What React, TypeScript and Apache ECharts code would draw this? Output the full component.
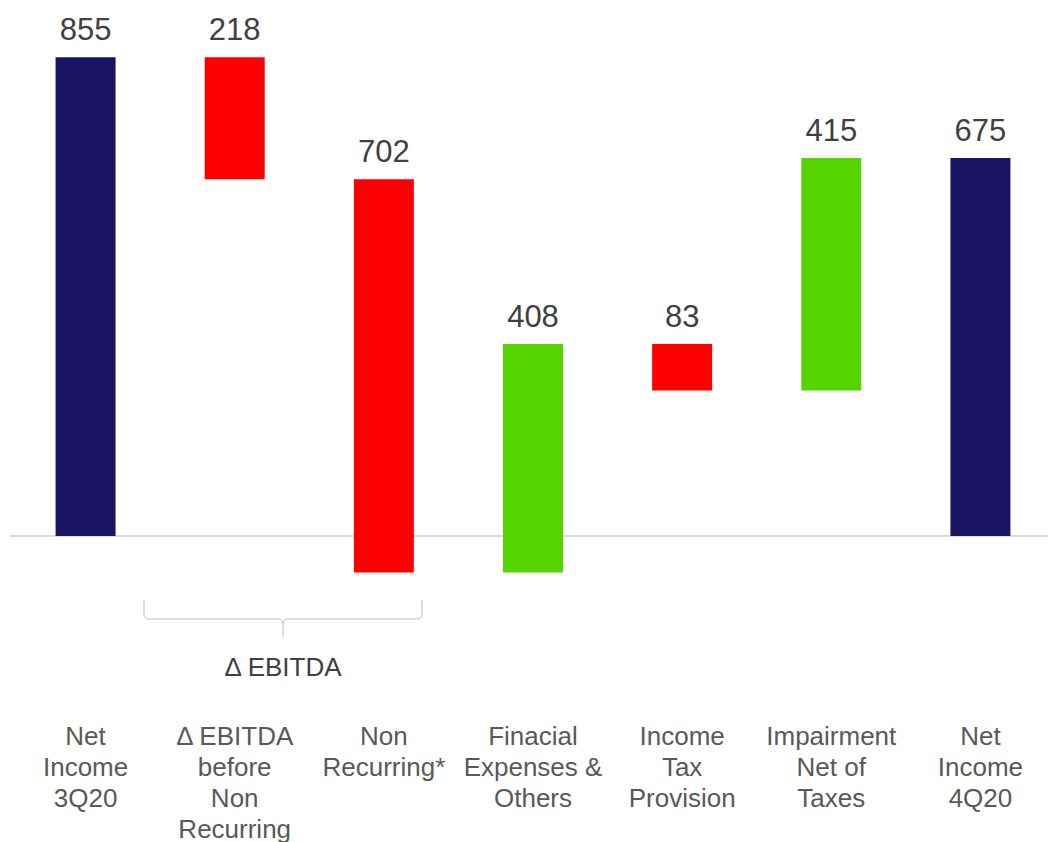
import React, { useEffect, useRef } from "react";
import * as echarts from "echarts";

const categories = [
  "Net\nIncome\n3Q20",
  "Δ EBITDA\nbefore\nNon\nRecurring",
  "Non\nRecurring*",
  "Finacial\nExpenses &\nOthers",
  "Income\nTax\nProvision",
  "Impairment\nNet of\nTaxes",
  "Net\nIncome\n4Q20",
];
const startValue = 855;
const deltas = [-218, -702, 408, -83, 415];
const endValue = 675;
const bracketLabel = "Δ EBITDA";

const NAVY = "#1b1464";
const RED = "#ff0000";
const GREEN = "#55d400";
const FONT = "'Liberation Sans', Arial, sans-serif";

function buildRanges() {
  const items: { low: number; high: number; color: string; label: number }[] = [];
  items.push({ low: 0, high: startValue, color: NAVY, label: startValue });
  let level = startValue;
  for (const d of deltas) {
    const next = level + d;
    items.push({
      low: Math.min(level, next),
      high: Math.max(level, next),
      color: d < 0 ? RED : GREEN,
      label: Math.abs(d),
    });
    level = next;
  }
  items.push({ low: 0, high: endValue, color: NAVY, label: endValue });
  return items;
}

export default function App() {
  const ref = useRef<HTMLDivElement>(null);
  useEffect(() => {
    if (!ref.current) return;
    const chart = echarts.init(ref.current, null, { renderer: "svg" });
    const items = buildRanges();
    const helper = items.map((it) =>
      it.low > 0 ? it.low : it.high < 0 ? it.high : 0
    );
    const pos = items.map((it) => ({
      value: it.high > 0 ? it.high - Math.max(it.low, 0) : 0,
      itemStyle: { color: it.color },
    }));
    const neg = items.map((it) => ({
      value: it.low < 0 ? it.low - Math.min(it.high, 0) : 0,
      itemStyle: { color: it.color },
    }));

    const bracePath =
      "M144 600 L144 614 Q144 619 149 619 L278 619 Q283 619 283 624 L283 637 M283 624 Q283 619 288 619 L417 619 Q422 619 422 614 L422 600";
    echarts.graphic.registerShape(
      "brace",
      echarts.graphic.extendPath(bracePath, {}) as any
    );

    chart.setOption({
      animation: false,
      backgroundColor: "#ffffff",
      grid: {
        left: 11,
        right: -7,
        top: 32,
        bottom: 194,
        containLabel: false,
        outerBoundsMode: "none",
      },
      xAxis: {
        type: "category",
        data: categories,
        axisLine: { show: true, onZero: true, lineStyle: { color: "#d9d9d9", width: 2 } },
        axisTick: { show: false },
        axisLabel: {
          interval: 0,
          margin: 72,
          fontSize: 26,
          lineHeight: 31,
          color: "#595959",
          fontFamily: FONT,
        },
        splitLine: { show: false },
      },
      yAxis: {
        type: "value",
        min: -200,
        max: 900,
        show: false,
        splitLine: { show: false },
      },
      series: [
        {
          type: "bar",
          stack: "w",
          barWidth: 60,
          silent: true,
          itemStyle: { color: "rgba(0,0,0,0)" },
          data: helper,
        },
        {
          type: "bar",
          stack: "w",
          barWidth: 60,
          silent: true,
          data: pos,
          label: {
            show: true,
            position: "top",
            distance: 12,
            fontSize: 31,
            color: "#404040",
            fontFamily: FONT,
            formatter: (p: any) => String(items[p.dataIndex].label),
          },
        },
        {
          type: "bar",
          stack: "w",
          barWidth: 60,
          silent: true,
          data: neg,
        },
      ],
      graphic: [
        {
          type: "brace",
          x: 0,
          y: 0,
          silent: true,
          style: { stroke: "#bfbfbf", fill: "none", lineWidth: 1 },
        },
        {
          type: "text",
          x: 283,
          y: 667,
          silent: true,
          style: {
            text: bracketLabel,
            fontSize: 26,
            fontFamily: FONT,
            fill: "#404040",
            align: "center",
            verticalAlign: "middle",
          },
        },
      ],
    });
    return () => chart.dispose();
  }, []);
  return (
    <div
      ref={ref}
      style={{ position: "absolute", left: 0, top: 0, width: 1048, height: 842 }}
    />
  );
}
